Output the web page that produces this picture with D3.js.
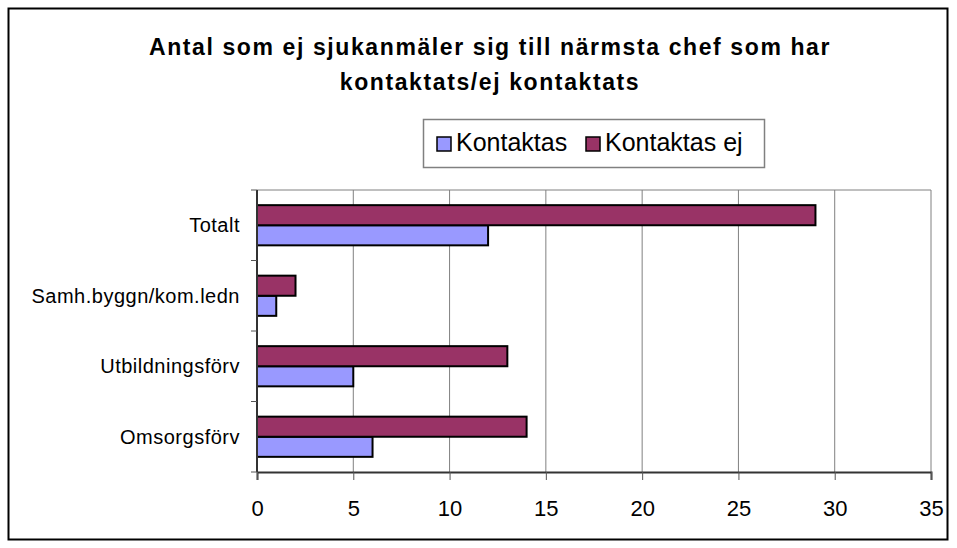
<!DOCTYPE html>
<html><head><meta charset="utf-8">
<script src="https://cdn.jsdelivr.net/npm/d3@7"></script>
<style>body{margin:0;background:#fff}svg{display:block}text{font-family:"Liberation Sans",Arial,sans-serif}</style>
</head><body>
<svg id="c" width="957" height="548"></svg>
<script>
const categories = ["Totalt", "Samh.byggn/kom.ledn", "Utbildningsförv", "Omsorgsförv"];
const seriesNames = ["Kontaktas", "Kontaktas ej"];
const kontaktas = [12, 1, 5, 6];
const kontaktasEj = [29, 2, 13, 14];
const xTicks = [0, 5, 10, 15, 20, 25, 30, 35];
const titleLines = ["Antal som ej sjukanmäler sig till närmsta chef som har", "kontaktats/ej kontaktats"];
const colors = {"Kontaktas": "#9999FF", "Kontaktas ej": "#993366"};

const svg = d3.select("#c");
svg.append("rect").attr("x", 8.5).attr("y", 8.5).attr("width", 939).attr("height", 531)
  .attr("fill", "#fff").attr("stroke", "#000").attr("stroke-width", 2);

svg.selectAll("text.title").data(titleLines).enter().append("text")
  .attr("x", 490).attr("y", (d, i) => 55 + i * 35).attr("text-anchor", "middle")
  .attr("font-size", 23).attr("font-weight", "bold").attr("letter-spacing", 1.6).text(d => d);

const L = 257, R = 931, T = 190, B = 472;
const x = d3.scaleLinear().domain([0, 35]).range([L, R]);
const y = d3.scaleBand().domain(categories).range([T, B]).paddingInner(0.43).paddingOuter(0.215);
const yInner = d3.scaleBand().domain(["Kontaktas ej", "Kontaktas"]).range([0, y.bandwidth()]);

// gridlines
svg.append("g").selectAll("line").data(xTicks.slice(1)).enter().append("line")
  .attr("x1", d => x(d)).attr("x2", d => x(d)).attr("y1", T).attr("y2", B)
  .attr("stroke", "#808080").attr("stroke-width", 1);
svg.append("line").attr("x1", L).attr("x2", R).attr("y1", T).attr("y2", T).attr("stroke", "#808080").attr("stroke-width", 1);

// bars
const data = categories.map((c, i) => ({cat: c, vals: [{s: "Kontaktas", v: kontaktas[i]}, {s: "Kontaktas ej", v: kontaktasEj[i]}]}));
const g = svg.append("g");
data.forEach(d => {
  g.selectAll(null).data(d.vals).enter().append("rect")
    .attr("x", x(0)).attr("y", e => y(d.cat) + yInner(e.s))
    .attr("width", e => x(e.v) - x(0)).attr("height", yInner.bandwidth())
    .attr("fill", e => colors[e.s]).attr("stroke", "#000").attr("stroke-width", 2);
});

// x axis
const xAxis = svg.append("g").attr("transform", `translate(0,${B})`)
  .call(d3.axisBottom(x).tickValues(xTicks).tickSize(8).tickPadding(20));
xAxis.select(".domain").attr("stroke", "#333").attr("stroke-width", 2);
xAxis.selectAll(".tick line").attr("stroke", "#555");
xAxis.selectAll("text").attr("font-size", 22).attr("font-family", "Liberation Sans, Arial, sans-serif").attr("fill", "#000");

// y axis
const yAxis = svg.append("g").attr("transform", `translate(${L},0)`);
yAxis.append("line").attr("x1", 0).attr("x2", 0).attr("y1", T).attr("y2", B).attr("stroke", "#333").attr("stroke-width", 2);
const step = y.step();
const bounds = d3.range(categories.length + 1).map(i => T + i * step);
yAxis.selectAll("line.tk").data(bounds).enter().append("line").attr("class", "tk")
  .attr("x1", -6).attr("x2", 0).attr("y1", d => d).attr("y2", d => d).attr("stroke", "#555");
yAxis.selectAll("text").data(categories).enter().append("text")
  .attr("x", -17).attr("y", d => y(d) + y.bandwidth() / 2).attr("dy", "0.35em")
  .attr("text-anchor", "end").attr("font-size", 20).attr("letter-spacing", 0.5).text(d => d);

// legend
const lg = svg.append("g");
lg.append("rect").attr("x", 423.5).attr("y", 119.5).attr("width", 341).attr("height", 48)
  .attr("fill", "#fff").attr("stroke", "#808080").attr("stroke-width", 1.5);
const lx = [437, 586];
seriesNames.forEach((s, i) => {
  lg.append("rect").attr("x", lx[i]).attr("y", 137).attr("width", 14).attr("height", 14)
    .attr("fill", colors[s]).attr("stroke", "#000").attr("stroke-width", 1.5);
  lg.append("text").attr("x", lx[i] + 19).attr("y", 151).attr("font-size", 25).text(s);
});
</script>
</body></html>
